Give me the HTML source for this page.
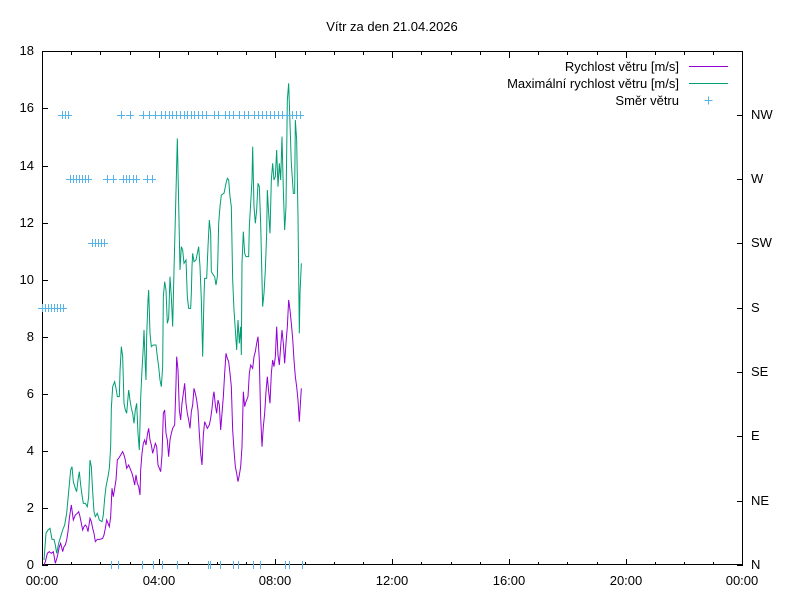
<!DOCTYPE html>
<html><head><meta charset="utf-8"><style>
body{margin:0;background:#fff}
svg{display:block;font-family:"Liberation Sans",sans-serif;font-size:13px}
</style></head><body>
<svg width="800" height="600" viewBox="0 0 800 600">
<rect width="800" height="600" fill="#fff"/>
<text x="392" y="31" text-anchor="middle">Vítr za den 21.04.2026</text>
<g stroke="#000" stroke-width="1" fill="none">
<rect x="42.5" y="51.5" width="700" height="513"/>
<path d="M42 565.5h6M42 508.5h6M42 451.5h6M42 394.5h6M42 337.5h6M42 280.5h6M42 223.5h6M42 166.5h6M42 108.5h6M42 51.5h6"/>
<path d="M743 565.5h-6M743 501.5h-6M743 436.5h-6M743 372.5h-6M743 308.5h-6M743 243.5h-6M743 179.5h-6M743 115.5h-6"/>
<path d="M42.5 565v-6M159.5 565v-6M275.5 565v-6M392.5 565v-6M509.5 565v-6M626.5 565v-6M742.5 565v-6M42.5 52v6M159.5 52v6M275.5 52v6M392.5 52v6M509.5 52v6M626.5 52v6"/>
<path d="M71.5 565v-3M100.5 565v-3M130.5 565v-3M188.5 565v-3M217.5 565v-3M246.5 565v-3M305.5 565v-3M334.5 565v-3M363.5 565v-3M421.5 565v-3M451.5 565v-3M480.5 565v-3M538.5 565v-3M567.5 565v-3M597.5 565v-3M655.5 565v-3M684.5 565v-3M713.5 565v-3
M71.5 52v3M100.5 52v3M130.5 52v3M188.5 52v3M217.5 52v3M246.5 52v3M305.5 52v3M334.5 52v3M363.5 52v3M421.5 52v3M451.5 52v3M480.5 52v3M538.5 52v3M567.5 52v3M597.5 52v3M655.5 52v3M684.5 52v3M713.5 52v3"/>
</g>
<g text-anchor="end">
<text x="34" y="569">0</text><text x="34" y="512">2</text><text x="34" y="455">4</text><text x="34" y="398">6</text><text x="34" y="341">8</text><text x="34" y="284">10</text><text x="34" y="227">12</text><text x="34" y="170">14</text><text x="34" y="112">16</text><text x="34" y="55">18</text>
</g>
<g>
<text x="751" y="569">N</text><text x="751" y="505">NE</text><text x="751" y="440">E</text><text x="751" y="376">SE</text><text x="751" y="312">S</text><text x="751" y="247">SW</text><text x="751" y="183">W</text><text x="751" y="119">NW</text>
</g>
<g text-anchor="middle">
<text x="42" y="585">00:00</text><text x="159" y="585">04:00</text><text x="275" y="585">08:00</text><text x="392" y="585">12:00</text><text x="509" y="585">16:00</text><text x="626" y="585">20:00</text><text x="742" y="585">00:00</text>
</g>
<g text-anchor="end">
<text x="679" y="71">Rychlost větru [m/s]</text>
<text x="679" y="88">Maximální rychlost větru [m/s]</text>
<text x="679" y="105">Směr větru</text>
</g>
<path d="M689 66.5h39" stroke="#9400d3"/>
<path d="M689 83.5h39" stroke="#009e73"/>
<path d="M704.5 100.5h8M708.5 96.5v8" stroke="#56b4e9"/>
<g transform="translate(40,80) scale(0.33333)" fill="none">
<polyline vector-effect="non-scaling-stroke" stroke="#009e73" points="12,1440 18,1360 24,1350 30,1345 36,1378 42,1378 46,1395 50,1420 56,1390 62,1370 68,1350 74,1335 80,1300 86,1235 92,1170 96,1160 100,1205 106,1225 110,1235 114,1200 118,1175 122,1215 126,1245 130,1270 136,1270 142,1280 146,1250 150,1140 154,1160 158,1235 162,1295 166,1310 172,1300 178,1320 186,1325 190,1305 194,1255 198,1220 204,1190 208,1165 212,1100 214,985 218,920 224,905 228,925 232,950 238,950 240,875 244,800 248,830 252,970 256,990 260,1000 266,930 270,960 274,985 278,1000 282,1030 286,990 290,970 294,1060 298,1110 302,955 306,870 310,800 312,750 316,860 318,900 320,770 324,660 326,630 330,760 334,800 340,795 348,795 352,830 356,860 360,900 364,920 368,860 370,650 374,605 378,630 382,730 386,715 390,590 394,650 398,740 402,570 406,415 410,255 412,175 416,370 420,570 424,500 428,510 432,550 438,540 442,650 446,685 452,685 454,640 456,560 458,520 462,545 468,540 474,510 476,500 480,560 484,660 488,830 492,650 494,595 500,595 504,500 508,420 512,460 514,575 520,585 524,590 528,615 532,590 534,520 536,430 540,380 544,345 552,340 558,310 562,295 566,300 570,350 574,380 578,600 582,690 586,750 590,810 594,720 598,790 602,740 604,825 606,550 610,455 614,520 618,530 626,530 628,440 632,370 636,300 638,200 642,380 646,430 650,390 654,310 658,320 662,430 666,600 668,680 672,640 676,570 680,460 682,330 686,400 690,460 694,300 698,250 702,300 706,290 710,210 714,320 718,250 722,300 726,170 730,330 734,450 738,380 742,60 746,10 750,130 754,250 760,340 764,340 766,120 770,180 774,410 778,760 780,640 784,550"/>
<polyline vector-effect="non-scaling-stroke" stroke="#9400d3" points="12,1455 16,1445 22,1420 28,1415 34,1420 40,1415 46,1450 52,1430 58,1400 62,1390 68,1415 72,1400 76,1395 80,1380 84,1355 88,1315 94,1275 100,1320 106,1305 112,1300 116,1295 120,1310 124,1330 128,1350 132,1340 136,1335 140,1340 144,1355 150,1315 154,1325 158,1345 162,1360 166,1385 172,1378 180,1378 188,1375 192,1365 196,1345 200,1320 204,1330 208,1340 212,1310 216,1225 220,1250 224,1225 228,1200 232,1140 236,1135 242,1125 248,1115 252,1125 256,1140 260,1165 266,1155 270,1165 276,1180 280,1195 284,1215 288,1185 292,1210 296,1220 300,1245 302,1170 306,1120 310,1090 314,1080 318,1095 322,1065 326,1045 330,1080 334,1095 338,1120 342,1105 346,1090 350,1100 354,1155 358,1165 362,1175 366,1125 370,1000 374,990 378,1060 382,1080 386,1130 390,1080 394,1060 398,1045 404,1035 408,910 410,830 414,870 418,990 422,1020 426,970 430,940 434,910 438,970 442,1000 446,1020 450,1045 454,995 458,975 462,925 466,940 470,960 474,990 478,1060 482,1120 486,1155 490,1065 494,1025 498,1035 502,1045 508,1035 512,1015 516,985 520,945 522,935 526,975 530,1000 534,960 538,975 542,1050 546,1000 550,950 554,880 558,820 562,835 566,845 570,880 574,920 578,1050 582,1110 586,1160 590,1180 594,1205 598,1185 602,1160 606,1100 610,935 614,980 618,965 624,950 628,880 632,855 638,865 642,830 646,815 650,790 654,770 658,840 662,1010 666,1100 670,1040 674,1000 678,935 682,890 686,935 690,970 694,880 698,840 702,860 706,830 710,740 714,825 718,855 722,800 726,750 730,790 734,850 738,790 742,740 746,660 750,690 754,730 758,775 762,840 766,890 770,920 774,960 778,1025 780,990 784,925"/>
</g>
<path stroke="#56b4e9" fill="none" d="
M38 308.5h8M42.5 304v8 M41 308.5h8M45.5 304v8 M44 308.5h8M48.5 304v8 M47 308.5h8M51.5 304v8 M50 308.5h8M54.5 304v8 M53 308.5h8M57.5 304v8 M56 308.5h8M60.5 304v8 M59 308.5h8M63.5 304v8
M88 243.5h8M92.5 239v8 M91 243.5h8M95.5 239v8 M94 243.5h8M98.5 239v8 M97 243.5h8M101.5 239v8 M100 243.5h8M104.5 239v8
M66 179.5h8M70.5 175v8 M69 179.5h8M73.5 175v8 M72 179.5h8M76.5 175v8 M75 179.5h8M79.5 175v8 M78 179.5h8M82.5 175v8 M81 179.5h8M85.5 175v8 M84 179.5h8M88.5 175v8
M103 179.5h8M107.5 175v8 M109 179.5h8M113.5 175v8 M119 179.5h8M123.5 175v8 M122 179.5h8M126.5 175v8 M125 179.5h8M129.5 175v8 M129 179.5h8M133.5 175v8 M132 179.5h8M136.5 175v8 M143 179.5h8M147.5 175v8 M148 179.5h8M152.5 175v8
M58 115.5h8M62.5 111v8 M61 115.5h8M65.5 111v8 M64 115.5h8M68.5 111v8 M117 115.5h8M121.5 111v8 M126 115.5h8M130.5 111v8 M139 115.5h8M143.5 111v8 M145 115.5h8M149.5 111v8
M151 115.5h8M155.5 111v8 M157 115.5h8M161.5 111v8 M161 115.5h8M165.5 111v8 M165 115.5h8M169.5 111v8 M168 115.5h8M172.5 111v8 M172 115.5h8M176.5 111v8 M176 115.5h8M180.5 111v8 M180 115.5h8M184.5 111v8 M183 115.5h8M187.5 111v8 M187 115.5h8M191.5 111v8 M190 115.5h8M194.5 111v8 M194 115.5h8M198.5 111v8 M198 115.5h8M202.5 111v8 M202 115.5h8M206.5 111v8
M210 115.5h8M214.5 111v8 M214 115.5h8M218.5 111v8 M221 115.5h8M225.5 111v8 M225 115.5h8M229.5 111v8 M229 115.5h8M233.5 111v8 M235 115.5h8M239.5 111v8 M240 115.5h8M244.5 111v8 M244 115.5h8M248.5 111v8 M250 115.5h8M254.5 111v8 M254 115.5h8M258.5 111v8 M258 115.5h8M262.5 111v8 M262 115.5h8M266.5 111v8 M266 115.5h8M270.5 111v8 M270 115.5h8M274.5 111v8 M274 115.5h8M278.5 111v8 M278 115.5h8M282.5 111v8 M283 115.5h8M287.5 111v8 M288 115.5h8M292.5 111v8 M292 115.5h8M296.5 111v8 M296 115.5h8M300.5 111v8
M111.5 561v8 M118.5 561v8 M142.5 561v8 M153.5 561v8 M162.5 561v8 M177.5 561v8 M208.5 561v8 M210.5 561v8 M220.5 561v8 M233.5 561v8 M238.5 561v8 M253.5 561v8 M260.5 561v8 M285.5 561v8 M289.5 561v8 M302.5 561v8"/>
</svg>
</body></html>
